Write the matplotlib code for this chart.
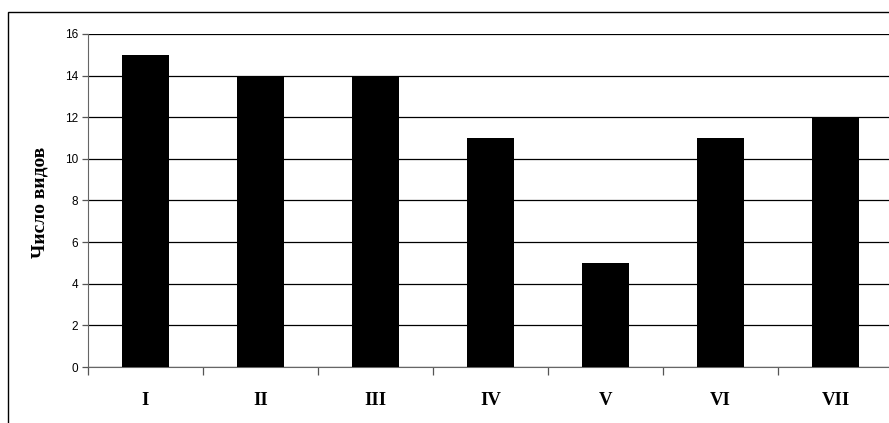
import matplotlib.pyplot as plt
from matplotlib.patches import Rectangle
import numpy as np

categories = ["I", "II", "III", "IV", "V", "VI", "VII"]
species = [15, 14, 14, 11, 5, 11, 12]
y_ticks = [0, 2, 4, 6, 8, 10, 12, 14, 16]

fig = plt.figure(figsize=(8.89, 4.23), dpi=100)

# outer frame of the chart area (runs past the right/bottom edge)
fig.patches.append(Rectangle((8 / 889, -0.05), 1.0, 1 - 12 / 423 + 0.05,
                             transform=fig.transFigure, fill=False,
                             edgecolor="black", lw=1.0))

ax = fig.add_axes([88 / 889, 1 - 367 / 423, 805 / 889, (367 - 34) / 423])

x = np.arange(len(categories))
ax.bar(x, species, width=0.41, color="black", zorder=3)

ax.set_xlim(-0.5, len(categories) - 0.5)
ax.set_ylim(0, 16)
ax.set_yticks(y_ticks)
ax.yaxis.grid(True, color="black", lw=0.9, zorder=0)

ax.set_xticks(np.arange(len(categories) + 1) - 0.5, minor=False)
ax.set_xticklabels([])
ax.set_xticks(x, minor=True)
ax.set_xticklabels(categories, minor=True, fontfamily="Liberation Serif",
                   fontweight="bold", fontsize=13.5)
ax.tick_params(axis="x", which="minor", length=0, pad=18)
ax.tick_params(axis="x", which="major", length=6, width=0.9, color="#555555")
ax.tick_params(axis="y", length=4, width=0.9, color="#555555", pad=3,
               labelsize=8.5)
for lab in ax.get_yticklabels():
    lab.set_fontfamily("Liberation Sans")

for side in ["top", "right"]:
    ax.spines[side].set_visible(False)
ax.spines["left"].set_color("#666666")
ax.spines["bottom"].set_color("#666666")

fig.text(40 / 889, 1 - 202 / 423, "Число видов", rotation=90,
         ha="center", va="center", fontfamily="Liberation Serif",
         fontweight="bold", fontsize=14)

fig.savefig("out.png", dpi=100)
